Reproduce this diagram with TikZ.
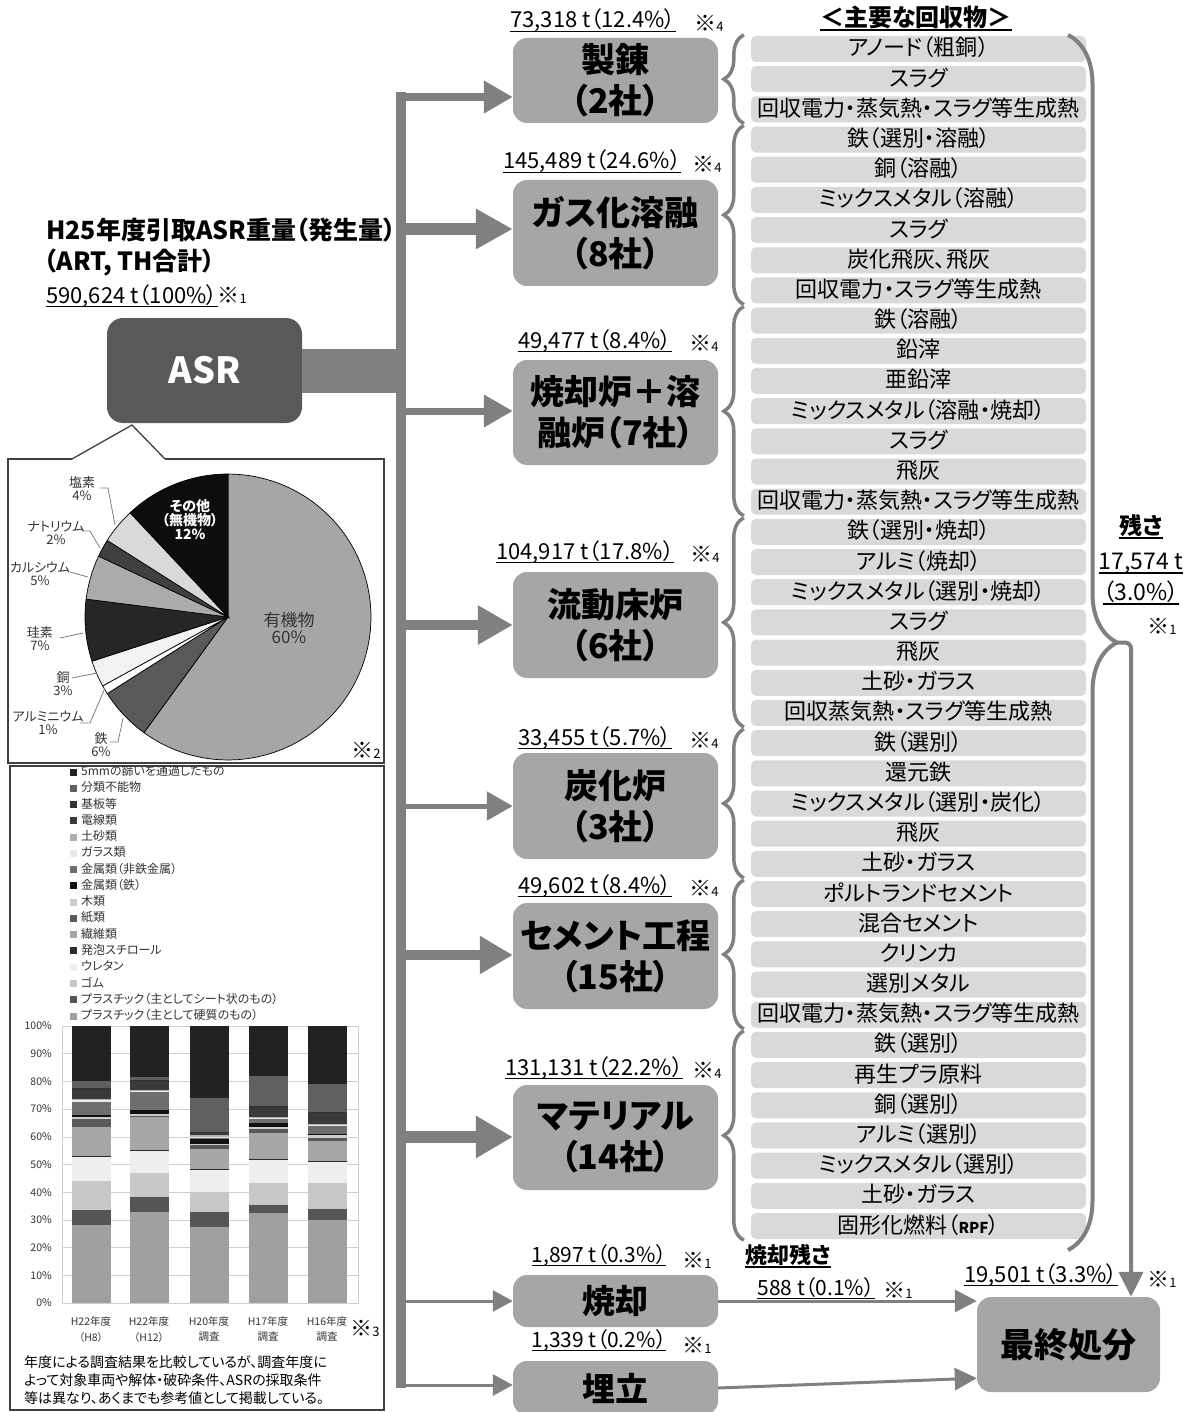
\documentclass[tikz,border=0pt]{standalone}
\usepackage{fontspec}
\setmainfont{Noto Sans CJK JP}[RawFeature=+palt]
\usetikzlibrary{arrows.meta,decorations.pathreplacing,calc}
\definecolor{agray}{HTML}{808080}
\definecolor{pgray}{HTML}{A6A6A6}
\definecolor{igray}{HTML}{D9D9D9}
\definecolor{asrgray}{HTML}{595959}
\definecolor{boxline}{HTML}{404040}
\definecolor{gridc}{HTML}{CFCFCF}
\definecolor{lgtext}{HTML}{333333}
\definecolor{pie1}{HTML}{A6A6A6}
\definecolor{pie2}{HTML}{595959}
\definecolor{pie3}{HTML}{FFFFFF}
\definecolor{pie4}{HTML}{F2F2F2}
\definecolor{pie5}{HTML}{262626}
\definecolor{pie6}{HTML}{ABABAB}
\definecolor{pie7}{HTML}{404040}
\definecolor{pie8}{HTML}{D9D9D9}
\definecolor{pie9}{HTML}{0D0D0D}
\definecolor{seg1}{HTML}{A0A0A0}
\definecolor{seg2}{HTML}{555555}
\definecolor{seg3}{HTML}{C8C8C8}
\definecolor{seg4}{HTML}{EEEEEE}
\definecolor{seg5}{HTML}{2A2A2A}
\definecolor{seg6}{HTML}{A6A6A6}
\definecolor{seg7}{HTML}{595959}
\definecolor{seg8}{HTML}{CCCCCC}
\definecolor{seg9}{HTML}{111111}
\definecolor{seg10}{HTML}{6E6E6E}
\definecolor{seg11}{HTML}{E8E8E8}
\definecolor{seg12}{HTML}{B0B0B0}
\definecolor{seg13}{HTML}{3A3A3A}
\definecolor{seg14}{HTML}{333333}
\definecolor{seg15}{HTML}{606060}
\definecolor{seg16}{HTML}{222222}
\newcommand\fsz[1]{\fontsize{#1}{#1}\selectfont}
\newcommand\myul[1]{\setbox0=\hbox{#1}\leavevmode\rlap{\rule[-0.2em]{\wd0}{0.075em}}\box0}
\newcommand\kome[1]{{\fsz{22}※}{\fsz{13}#1}}
\newcommand\drawbar[2]{\foreach \vv [count=\kk, remember=\vv as \pvv (initially 0)] in {#2} {\fill[seg\kk] ({#1-19.5},{1303-2.77*\pvv}) rectangle ({#1+19.5},{1303-2.77*\vv});}}
\begin{document}
\begin{tikzpicture}[x=1pt,y=-1pt,
  proc/.style={fill=pgray, rounded corners=14pt, minimum width=205pt, inner sep=0pt, align=center, font=\fontsize{34}{41}\selectfont\bfseries},
  item/.style={fill=igray, rounded corners=5pt, minimum width=335pt, minimum height=26pt, inner sep=0pt, text height=17pt, text depth=3pt, font=\fsz{22}},
  br/.style n args={3}{draw=agray, line width=#1, -{Triangle[length=#2,width=#3]}},
  lbrace/.style={draw=agray, line width=3.5pt, decorate, decoration={brace, amplitude=20pt}},
  rbrace/.style={draw=agray, line width=4pt, decorate, decoration={brace, amplitude=49pt}},
  thinarr/.style={draw=agray, line width=3pt, -{Triangle[length=22pt,width=22pt]}},
  num/.style={inner sep=0pt, text height=17pt, text depth=5pt, font=\fsz{22}},
  kom/.style={inner sep=0pt, text height=15pt, text depth=2pt},
  plab/.style={inner sep=0pt, font=\fsz{13}, text=lgtext, align=center},
  lead/.style={draw=agray, line width=0.8pt},
  ]
\clip (0,0) rectangle (1195,1412);
\fill[white] (0,0) rectangle (1195,1412);

% ---------- title ----------
\node[anchor=west, inner sep=0pt, text height=19pt, text depth=5pt, font=\fsz{25}\bfseries] (title1) at (46,233) {H25年度引取ASR重量（発生量）};
\node[anchor=west, inner sep=0pt, text height=19pt, text depth=5pt, font=\fsz{25}\bfseries] (title2) at (44,264) {（ART, TH合計）};
\node[anchor=west, num] (title3) at (46,297) {\myul{590,624 t（100\%）}\kome{1}};

% ---------- ASR ----------
\node[fill=asrgray, rounded corners=16pt, minimum width=195pt, minimum height=105pt, inner sep=0pt, text=white, font=\fsz{36}\bfseries] (asr) at (204.5,370.5) {ASR};

% ---------- trunk ----------
\coordinate (trtop) at (401,92);
\coordinate (trbot) at (401,1388);
\draw[agray, line width=44pt] (asr.east) -- (asr.east -| trtop);
\draw[agray, line width=10pt] (trtop) -- (trbot);

% ---------- process boxes ----------
\node[proc, minimum height=85pt] (p1) at (615.5,80.5) {製錬\\（2社）};
\node[proc, minimum height=106pt] (p2) at (615.5,233) {ガス化溶融\\（8社）};
\node[proc, minimum height=105pt] (p3) at (615.5,412.5) {焼却炉＋溶\\融炉（7社）};
\node[proc, minimum height=106pt] (p4) at (615.5,625) {流動床炉\\（6社）};
\node[proc, minimum height=106pt] (p5) at (615.5,806) {炭化炉\\（3社）};
\node[proc, minimum height=106pt] (p6) at (615.5,956) {セメント工程\\（15社）};
\node[proc, minimum height=105pt] (p7) at (615.5,1137.5) {マテリアル\\（14社）};
\node[proc, minimum height=52pt, font=\fsz{33}\bfseries] (p8) at (615.5,1301) {焼却};
\node[proc, minimum height=54pt, font=\fsz{33}\bfseries] (p9) at (615.5,1388) {埋立};
\node[proc, minimum width=183pt, minimum height=95pt] (final) at (1068.5,1344.5) {最終処分};

% ---------- branches ----------
\coordinate (b1) at (401,97);
\coordinate (b2) at (401,229);
\coordinate (b3) at (401,411);
\coordinate (b4) at (401,625);
\coordinate (b5) at (401,806);
\coordinate (b6) at (401,955);
\coordinate (b7) at (401,1137);
\coordinate (b8) at (401,1301);
\coordinate (b9) at (401,1385);
\draw[br={8pt}{29pt}{31pt}] (b1) -- (b1 -| p1.west);
\draw[br={12pt}{37pt}{38pt}] (b2) -- (b2 -| p2.west);
\draw[br={7pt}{29pt}{31pt}] (b3) -- (b3 -| p3.west);
\draw[br={10pt}{35pt}{37pt}] (b4) -- (b4 -| p4.west);
\draw[br={5pt}{26pt}{28pt}] (b5) -- (b5 -| p5.west);
\draw[br={10pt}{33pt}{36pt}] (b6) -- (b6 -| p6.west);
\draw[br={12pt}{37pt}{40pt}] (b7) -- (b7 -| p7.west);
\draw[br={3pt}{20pt}{21pt}] (b8) -- (b8 -| p8.west);
\draw[br={3pt}{20pt}{21pt}] (b9) -- (b9 -| p9.west);

% ---------- labels over boxes ----------
\node[num] (l1) at (593,22) {\myul{73,318 t（12.4\%）}};
\node[kom] (k1) at (709,25) {\kome{4}};
\node[num] (l2) at (592,163) {\myul{145,489 t（24.6\%）}};
\node[kom] (k2) at (707,166) {\kome{4}};
\node[num] (l3) at (595,342) {\myul{49,477 t（8.4\%）}};
\node[kom] (k3) at (704,345) {\kome{4}};
\node[num] (l4) at (585,553) {\myul{104,917 t（17.8\%）}};
\node[kom] (k4) at (705,556) {\kome{4}};
\node[num] (l5) at (595,739) {\myul{33,455 t（5.7\%）}};
\node[kom] (k5) at (704,742) {\kome{4}};
\node[num] (l6) at (595,887) {\myul{49,602 t（8.4\%）}};
\node[kom] (k6) at (704,890) {\kome{4}};
\node[num] (l7) at (594,1069) {\myul{131,131 t（22.2\%）}};
\node[kom] (k7) at (707,1072) {\kome{4}};
\node[num, font=\fsz{21}] (l8) at (599,1256) {\myul{1,897 t（0.3\%）}};
\node[kom] (k8) at (697,1262) {\kome{1}};
\node[num, font=\fsz{21}] (l9) at (599,1341) {\myul{1,339 t（0.2\%）}};
\node[kom] (k9) at (697,1347) {\kome{1}};

\node[inner sep=0pt, text height=19pt, text depth=6pt, font=\fsz{24}\bfseries] (head) at (916,20) {\myul{＜主要な回収物＞}};

% ---------- items ----------
\foreach \t [count=\i from 0] in {アノード（粗銅）,スラグ,回収電力・蒸気熱・スラグ等生成熱,
  鉄（選別・溶融）,銅（溶融）,ミックスメタル（溶融）,スラグ,炭化飛灰、飛灰,回収電力・スラグ等生成熱,
  鉄（溶融）,鉛滓,亜鉛滓,ミックスメタル（溶融・焼却）,スラグ,飛灰,回収電力・蒸気熱・スラグ等生成熱,
  鉄（選別・焼却）,アルミ（焼却）,ミックスメタル（選別・焼却）,スラグ,飛灰,土砂・ガラス,回収蒸気熱・スラグ等生成熱,
  鉄（選別）,還元鉄,ミックスメタル（選別・炭化）,飛灰,土砂・ガラス,
  ポルトランドセメント,混合セメント,クリンカ,選別メタル,回収電力・蒸気熱・スラグ等生成熱,
  鉄（選別）,再生プラ原料,銅（選別）,アルミ（選別）,ミックスメタル（選別）,土砂・ガラス,{固形化燃料（{\bfseries\fsz{15}RPF}）}}
  \node[item] (it\i) at (918.5,{49+30.18*\i}) {\t};

% ---------- braces ----------
\foreach \a/\b in {0/2,3/8,9/15,16/22,23/27,28/32,33/39}
  \draw[lbrace] ([xshift=-7pt,yshift=-1pt]it\b.south west) -- ([xshift=-7pt,yshift=1pt]it\a.north west);
\coordinate (rtop) at (1068,35);
\coordinate (rbot) at (1068,1250);
\draw[rbrace] (rtop) -- (rbot);
\coordinate (rtip) at (1116,642.5);
\coordinate (fx) at (1131,0);
\draw[agray, line width=4pt, rounded corners=6pt, -{Triangle[length=25pt,width=24pt]}] (rtip) -| (fx |- final.north);

% residue labels
\node[inner sep=0pt, text height=18pt, text depth=6pt, font=\fsz{23}\bfseries] (z1) at (1141,528) {\myul{残さ}};
\node[inner sep=0pt, text height=18pt, text depth=6pt, font=\fsz{23}] (z2) at (1141,563) {\myul{17,574 t}};
\node[inner sep=0pt, text height=18pt, text depth=6pt, font=\fsz{23}] (z3) at (1141,594) {\myul{（3.0\%）}};
\node[kom] (z4) at (1162,628) {\kome{1}};

% ---------- to final ----------
\draw[thinarr] (p8.east) -- (p8.east -| final.west);
\draw[thinarr] (p9.east) -- ([yshift=14pt]final.south west);
\node[inner sep=0pt, text height=18pt, text depth=5pt, font=\fsz{22}\bfseries] (sz1) at (788,1257) {\myul{焼却残さ}};
\node[num, font=\fsz{21}] (sz2) at (816,1289) {\myul{588 t（0.1\%）}};
\node[kom] (sz3) at (898,1292) {\kome{1}};
\node[num] (fz1) at (1041,1276) {\myul{19,501 t（3.3\%）}};
\node[kom] (fz2) at (1162,1281) {\kome{1}};

% ---------- pie panel ----------
\coordinate (callout) at (132,425);
\draw[boxline, line width=1.3pt] (72,459) -- (callout) -- (165,459);
\draw[boxline, line width=1.3pt] (72,459) -- (8,459) -- (8,763) -- (384,763) -- (384,459) -- (165,459);
\coordinate (pc) at (228,617);
\foreach \a/\b/\c in {-90/126/pie1,126/147.6/pie2,147.6/151.2/pie3,151.2/162/pie4,162/187.2/pie5,187.2/205.2/pie6,205.2/212.4/pie7,212.4/226.8/pie8,226.8/270/pie9}
  \filldraw[fill=\c, draw=black, line width=0.7pt] (pc) -- plot[domain=\a:\b, samples=60] ({228+143*cos(\x)},{617+143*sin(\x)}) -- cycle;
\node[plab, font=\fsz{17}] (pl1) at (289,628) {有機物\\60\%};
\node[plab, text=white, font=\fsz{14}\bfseries] (pl9) at (190,520) {その他\\（無機物）\\12\%};
\node[plab] (pl8) at (82,489) {塩素\\4\%};
\node[plab] (pl7) at (56,533) {ナトリウム\\2\%};
\node[plab] (pl6) at (40,574) {カルシウム\\5\%};
\node[plab] (pl5) at (40,639) {珪素\\7\%};
\node[plab] (pl4) at (63,684) {銅\\3\%};
\node[plab] (pl3) at (48,723) {アルミニウム\\1\%};
\node[plab] (pl2) at (101,745) {鉄\\6\%};
\draw[lead] (100,488) -- (108,488) -- (115,525);
\draw[lead] (82,531) -- (90,531) -- (100,548);
\draw[lead] (70,572) -- (88,577);
\draw[lead] (60,638) -- (83,633);
\draw[lead] (72,678) -- (97,673);
\draw[lead] (80,723) -- (90,723) -- (105,688);
\draw[lead] (110,742) -- (118,742) -- (123,718);
\node[kom] (kp) at (366,752) {\kome{2}};

% ---------- bar panel ----------
\draw[boxline, line width=1.3pt] (10,766) rectangle (384,1410);
\foreach \nm [count=\k] in {5mmの篩いを通過したもの,分類不能物,基板等,電線類,土砂類,ガラス類,金属類（非鉄金属）,金属類（鉄）,木類,紙類,繊維類,発泡スチロール,ウレタン,ゴム,プラスチック（主としてシート状のもの）,プラスチック（主として硬質のもの）}{
  \pgfmathtruncatemacro\cc{17-\k}
  \fill[seg\cc] (70,{772+16.27*(\k-1)-3.5}) rectangle +(7,7);
  \node[anchor=west, inner sep=0pt, text height=9pt, text depth=2pt, font=\fsz{12}, text=lgtext] (lg\k) at (81,{772+16.27*(\k-1)}) {\nm};
}
\foreach \p in {10,20,...,100}
  \draw[gridc, line width=0.6pt] (62,{1303-2.77*\p}) -- (358,{1303-2.77*\p});
\draw[gridc, line width=0.8pt] (62,1026) rectangle (358,1303);
\foreach \p in {0,10,...,100}
  \node[anchor=east, inner sep=0pt, font=\fsz{10.5}, text=lgtext] (ya\p) at (52,{1303-2.77*\p}) {\p\%};
\drawbar{91}{28,33.5,44,53,53.2,63.5,66.5,67,67.7,72.5,73.3,73.8,77,77.5,80,100}
\drawbar{149}{33,38.3,47,55,55.3,67,67.5,68.3,69.5,76,76.6,77,80,80.5,81.5,100}
\drawbar{209}{27.5,33,40,48,48.3,55.5,57,57.3,59.3,59.8,60,60.5,61.5,61.6,74,100}
\drawbar{268}{32.5,35.5,43.5,51.7,52,61.5,63,63.5,65,66.5,66.8,67,70.5,71,82,100}
\drawbar{327}{30,34,43.5,51,51.3,58.5,59.5,60.5,61,64,64.3,64.5,68.5,69,79,100}
\foreach \bx/\ta/\tb [count=\j] in {91/H22年度/（H8）,149/H22年度/（H12）,209/H20年度/調査,268/H17年度/調査,327/H16年度/調査}{
  \node[inner sep=0pt, font=\fsz{10.5}, text=lgtext] (xa\j) at (\bx,1321) {\ta};
  \node[inner sep=0pt, font=\fsz{10.5}, text=lgtext] (xb\j) at (\bx,1337) {\tb};
}
\node[kom] (k3b) at (365,1330) {\kome{3}};
\node[anchor=west, inner sep=0pt, font=\fsz{14}] (note1) at (24,1362) {年度による調査結果を比較しているが、調査年度に};
\node[anchor=west, inner sep=0pt, font=\fsz{14}] (note2) at (24,1380) {よって対象車両や解体・破砕条件、ASRの採取条件};
\node[anchor=west, inner sep=0pt, font=\fsz{14}] (note3) at (24,1398) {等は異なり、あくまでも参考値として掲載している。};
\end{tikzpicture}
\end{document}
